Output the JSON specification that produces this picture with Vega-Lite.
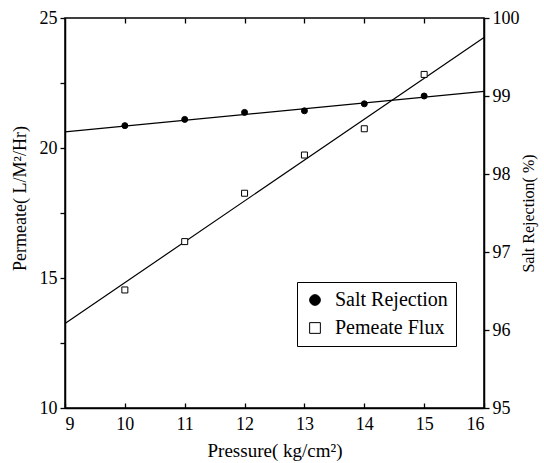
{
  "$schema": "https://vega.github.io/schema/vega-lite/v6.json",
  "width": 419,
  "height": 390,
  "autosize": {"type": "none"},
  "padding": {"left": 65, "top": 18, "right": 60, "bottom": 55},
  "background": "white",
  "config": {
    "view": {"stroke": "black", "strokeWidth": 1.5},
    "axis": {
      "grid": false,
      "domainColor": "black",
      "domainWidth": 1.5,
      "tickColor": "black",
      "tickWidth": 1.3,
      "labelColor": "black",
      "titleColor": "black",
      "labelFont": "Liberation Serif",
      "titleFont": "Liberation Serif",
      "labelFontSize": 18,
      "titleFontSize": 18,
      "titleFontWeight": "normal"
    },
    "legend": {
      "labelFont": "Liberation Serif",
      "labelFontSize": 20,
      "labelColor": "black"
    }
  },
  "datasets": {
    "flux_pts": [
      {"pressure": 10, "value": 14.54, "series": "Pemeate Flux"},
      {"pressure": 11, "value": 16.40, "series": "Pemeate Flux"},
      {"pressure": 12, "value": 18.26, "series": "Pemeate Flux"},
      {"pressure": 13, "value": 19.73, "series": "Pemeate Flux"},
      {"pressure": 14, "value": 20.74, "series": "Pemeate Flux"},
      {"pressure": 15, "value": 22.83, "series": "Pemeate Flux"}
    ],
    "flux_fit": [
      {"pressure": 9, "value": 13.25},
      {"pressure": 16, "value": 24.25}
    ],
    "salt_pts": [
      {"pressure": 10, "value": 98.62, "series": "Salt Rejection"},
      {"pressure": 11, "value": 98.70, "series": "Salt Rejection"},
      {"pressure": 12, "value": 98.79, "series": "Salt Rejection"},
      {"pressure": 13, "value": 98.81, "series": "Salt Rejection"},
      {"pressure": 14, "value": 98.90, "series": "Salt Rejection"},
      {"pressure": 15, "value": 99.00, "series": "Salt Rejection"}
    ],
    "salt_fit": [
      {"pressure": 9, "value": 98.54},
      {"pressure": 16, "value": 99.06}
    ]
  },
  "layer": [
    {
      "encoding": {
        "x": {
          "field": "pressure", "type": "quantitative",
          "scale": {"domain": [9, 16], "nice": false, "zero": false},
          "axis": {
            "orient": "bottom",
            "values": [9, 10, 11, 12, 13, 14, 15, 16],
            "tickSize": -5,
            "labelPadding": 12,
            "titlePadding": 8,
            "titleFontSize": 19,
            "title": "Pressure( kg/cm²)"
          }
        },
        "y": {
          "field": "value", "type": "quantitative",
          "scale": {"domain": [10, 25], "nice": false, "zero": false},
          "axis": {
            "orient": "left",
            "values": [10, 12.5, 15, 17.5, 20, 22.5, 25],
            "labelExpr": "datum.value % 5 == 0 ? datum.label : ''",
            "tickSize": 5,
            "labelPadding": 3,
            "titlePadding": 10,
            "titleY": 180,
            "title": "Permeate( L/M²/Hr)"
          }
        }
      },
      "layer": [
        {
          "data": {"name": "flux_fit"},
          "mark": {"type": "line", "color": "black", "strokeWidth": 1.2}
        },
        {
          "data": {"name": "flux_pts"},
          "mark": {"type": "point", "filled": true, "strokeWidth": 1, "size": 36, "opacity": 1},
          "encoding": {
            "shape": {
              "field": "series", "type": "nominal",
              "scale": {"domain": ["Salt Rejection", "Pemeate Flux"], "range": ["circle", "square"]},
              "legend": {
                "title": null, "orient": "none", "legendX": 232, "legendY": 264,
                "strokeColor": "black", "padding": 8, "rowPadding": 8,
                "symbolSize": 115, "symbolStrokeWidth": 1,
                "labelOffset": 10
              }
            },
            "fill": {
              "field": "series", "type": "nominal",
              "scale": {"domain": ["Salt Rejection", "Pemeate Flux"], "range": ["black", "white"]},
              "legend": {
                "title": null, "orient": "none", "legendX": 232, "legendY": 264,
                "strokeColor": "black", "padding": 8, "rowPadding": 8,
                "symbolSize": 115, "symbolStrokeWidth": 1,
                "labelOffset": 10
              }
            },
            "stroke": {
              "field": "series", "type": "nominal",
              "scale": {"domain": ["Salt Rejection", "Pemeate Flux"], "range": ["black", "black"]},
              "legend": {
                "title": null, "orient": "none", "legendX": 232, "legendY": 264,
                "strokeColor": "black", "padding": 8, "rowPadding": 8,
                "symbolSize": 115, "symbolStrokeWidth": 1,
                "labelOffset": 10
              }
            }
          }
        }
      ]
    },
    {
      "encoding": {
        "x": {
          "field": "pressure", "type": "quantitative",
          "scale": {"domain": [9, 16], "nice": false, "zero": false},
          "axis": {
            "orient": "top",
            "values": [10, 11, 12, 13, 14, 15],
            "labels": false,
            "domain": false,
            "tickSize": -5,
            "title": null
          }
        },
        "y": {
          "field": "value", "type": "quantitative",
          "scale": {"domain": [95, 100], "nice": false, "zero": false},
          "axis": {
            "orient": "right",
            "values": [95, 96, 97, 98, 99, 100],
            "tickSize": 5,
            "labelPadding": 3,
            "titlePadding": 1,
            "titleAngle": 270,
            "titleBaseline": "top",
            "titleFontSize": 16,
            "title": "Salt Rejection( %)"
          }
        }
      },
      "layer": [
        {
          "data": {"name": "salt_fit"},
          "mark": {"type": "line", "color": "black", "strokeWidth": 1.2}
        },
        {
          "data": {"name": "salt_pts"},
          "mark": {"type": "point", "filled": true, "strokeWidth": 1, "size": 36, "opacity": 1},
          "encoding": {
            "shape": {
              "field": "series", "type": "nominal",
              "scale": {"domain": ["Salt Rejection", "Pemeate Flux"], "range": ["circle", "square"]},
              "legend": {
                "title": null, "orient": "none", "legendX": 232, "legendY": 264,
                "strokeColor": "black", "padding": 8, "rowPadding": 8,
                "symbolSize": 115, "symbolStrokeWidth": 1,
                "labelOffset": 10
              }
            },
            "fill": {
              "field": "series", "type": "nominal",
              "scale": {"domain": ["Salt Rejection", "Pemeate Flux"], "range": ["black", "white"]},
              "legend": {
                "title": null, "orient": "none", "legendX": 232, "legendY": 264,
                "strokeColor": "black", "padding": 8, "rowPadding": 8,
                "symbolSize": 115, "symbolStrokeWidth": 1,
                "labelOffset": 10
              }
            },
            "stroke": {
              "field": "series", "type": "nominal",
              "scale": {"domain": ["Salt Rejection", "Pemeate Flux"], "range": ["black", "black"]},
              "legend": {
                "title": null, "orient": "none", "legendX": 232, "legendY": 264,
                "strokeColor": "black", "padding": 8, "rowPadding": 8,
                "symbolSize": 115, "symbolStrokeWidth": 1,
                "labelOffset": 10
              }
            }
          }
        }
      ]
    }
  ],
  "resolve": {"scale": {"x": "independent", "y": "independent"}}
}
